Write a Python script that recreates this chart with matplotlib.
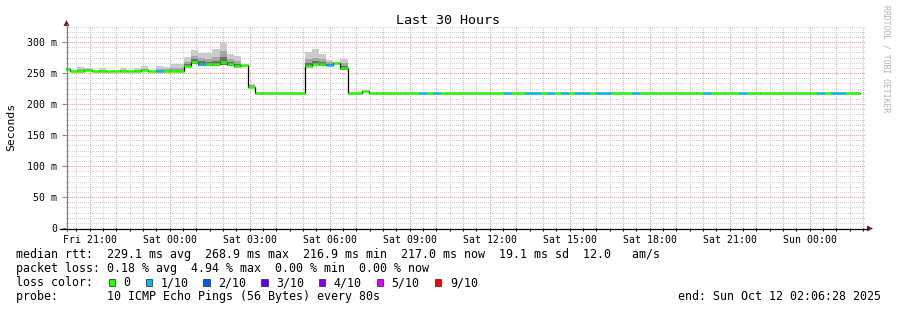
import numpy as np
import matplotlib
matplotlib.use("Agg")
import matplotlib.pyplot as plt
from matplotlib.patches import Rectangle, Polygon
from matplotlib.ticker import MultipleLocator

W, H = 897, 310
MONO = "DejaVu Sans Mono"

# ---------------- data ----------------
# 16-minute consolidated steps, starting Fri 20:00 (hours counted from Fri 00:00)
step_hours = 16 / 60
first_step_hour = 20.0
view_start = 20 + 6 / 60 + 28 / 3600          # Fri 20:06:28
view_end = view_start + 30                      # Sun 02:06:28

flat = [217] * 69
median_ms = [256, 253, 253, 255, 253, 253, 253, 253, 253, 253,
             253, 255, 253, 253, 253, 253, 253, 261, 267, 265,
             264, 264, 268, 264, 262, 263, 228, 217, 217, 217,
             217, 217, 217, 217, 262, 265, 264, 263, 266, 258,
             217, 217, 221] + flat
ping_max_ms = [258, 254, 259, 258, 254, 258, 254, 255, 258, 254,
               258, 261, 254, 261, 260, 264, 264, 276, 287, 283,
               282, 288, 299, 281, 277, 263, 232, 217, 217, 217,
               217, 217, 217, 217, 284, 288, 280, 271, 268, 272,
               217, 217, 221] + [217] * 65 + [219] + [217] * 3
ping_mid_ms = [256, 253, 256, 256, 253, 255, 253, 253, 255, 253,
               255, 257, 253, 256, 256, 258, 258, 268, 278, 274,
               272, 276, 285, 272, 270, 263, 230, 217, 217, 217,
               217, 217, 217, 217, 272, 275, 272, 267, 266, 266,
               217, 217, 221] + flat
ping_dark_ms = [256, 253, 253, 255, 253, 253, 253, 253, 253, 253,
                253, 255, 253, 253, 253, 253, 253, 264, 272, 269,
                267, 269, 276, 267, 265, 263, 228, 217, 217, 217,
                217, 217, 217, 217, 266, 269, 268, 265, 266, 262,
                217, 217, 221] + flat
ping_min_ms = [256, 253, 253, 255, 253, 253, 253, 253, 253, 253,
               253, 255, 253, 253, 253, 253, 253, 259, 265, 262,
               262, 262, 263, 262, 260, 263, 228, 217, 217, 217,
               217, 217, 217, 217, 260, 263, 262, 262, 266, 255,
               217, 217, 221] + flat
lossy_steps = [13, 19, 37, 50, 52, 62, 65, 66, 68, 70, 72, 73, 75, 76,
               80, 90, 95, 106, 108, 109]

y_ticks = [0, 50, 100, 150, 200, 250, 300]
y_ticklabels = ["0", "50 m", "100 m", "150 m", "200 m", "250 m", "300 m"]
x_ticks = [21, 24, 27, 30, 33, 36, 39, 42, 45, 48]
x_ticklabels = ["Fri 21:00", "Sat 00:00", "Sat 03:00", "Sat 06:00", "Sat 09:00",
                "Sat 12:00", "Sat 15:00", "Sat 18:00", "Sat 21:00", "Sun 00:00"]

loss_labels = ["0", "1/10", "2/10", "3/10", "4/10", "5/10", "9/10"]
loss_colors = ["#26ff00", "#00b8ff", "#0059ff", "#5e00ff", "#7e00ff", "#dd00ff", "#ff0000"]

stat_line1 = "median rtt:  229.1 ms avg  268.9 ms max  216.9 ms min  217.0 ms now  19.1 ms sd  12.0   am/s"
stat_line2 = "packet loss: 0.18 % avg  4.94 % max  0.00 % min  0.00 % now"
stat_line3 = "loss color:"
stat_line4 = "probe:       10 ICMP Echo Pings (56 Bytes) every 80s"
end_text = "end: Sun Oct 12 02:06:28 2025"

# ---------------- figure ----------------
fig = plt.figure(figsize=(W / 100, H / 100), dpi=100)
fig.patch.set_facecolor("white")

def fx(px):
    return px / W

def fy(py):
    return 1 - py / H

ax_left, ax_right, ax_top, ax_bottom = 66, 866, 26, 228
ax = fig.add_axes([fx(ax_left), fy(ax_bottom), (ax_right - ax_left) / W, (ax_bottom - ax_top) / H])
ax.set_xlim(view_start, view_end)
y_top = 300 * (ax_bottom - ax_top) / (ax_bottom - 42)
ax.set_ylim(0, y_top)
for s in ax.spines.values():
    s.set_visible(False)

n = len(median_ms)
starts = first_step_hour + step_hours * np.arange(n)
ends = starts + step_hours
med = np.array(median_ms, float)
pmax = np.array(ping_max_ms, float)
pmid = np.array(ping_mid_ms, float)
pdark = np.array(ping_dark_ms, float)
pmin = np.array(ping_min_ms, float)
loss = np.zeros(n, int)
loss[lossy_steps] = 1

# grid (crisp 1px dotted lines)
dot = (0, (1, 1.5))
gkw = dict(lw=0.72, ls=dot, zorder=1, antialiased=False)
h = 20.5
while h < view_end:
    if abs(h - round(h)) < 1e-6:
        ax.axvline(h, color="#f0a6a6", **gkw)
    else:
        ax.axvline(h, color="#d2d2d2", **gkw)
    h += 0.5
k = 1
while k * 50 / 6 < y_top:
    v = k * 50 / 6
    if k % 6 == 0:
        ax.axhline(v, color="#f0a6a6", **gkw)
    else:
        ax.axhline(v, color="#d2d2d2", **gkw)
    k += 1

# smoke
ax.bar(starts, pmax - pmin, bottom=pmin, width=step_hours, align="edge",
       color="#cbcbcb", linewidth=0, zorder=2)
ax.bar(starts, pmid - pmin, bottom=pmin, width=step_hours, align="edge",
       color="#a6a6a6", linewidth=0, zorder=2)
ax.bar(starts, pdark - pmin, bottom=pmin, width=step_hours, align="edge",
       color="#6e6e6e", linewidth=0, zorder=2)

# median line
ax.step(np.append(starts, ends[-1]), np.append(med, med[-1]), where="post",
        color="black", lw=0.9, zorder=3)
for lvl in range(2):
    m = loss == lvl
    ax.hlines(med[m], starts[m], ends[m], colors=loss_colors[lvl], lw=1.8,
              zorder=4)

# ticks
ax.set_yticks(y_ticks)
ax.set_yticklabels(y_ticklabels, family=MONO, fontsize=7.1)
ax.set_xticks(x_ticks)
ax.set_xticklabels(x_ticklabels, family=MONO, fontsize=7.1)
ax.xaxis.set_minor_locator(MultipleLocator(0.5))
ax.tick_params(axis="y", length=3, width=0.8, color="#888888", pad=3.2)
ax.tick_params(axis="x", which="major", length=2, width=0.8, color="black", pad=3)
ax.tick_params(axis="x", which="minor", length=2, width=0.8, color="black")

# overlay in pixel coordinates
ov = fig.add_axes([0, 0, 1, 1])
ov.set_xlim(0, W)
ov.set_ylim(H, 0)
ov.axis("off")
ov.patch.set_visible(False)

ov.plot([66.5, 66.5], [231, 24], color="#808080", lw=0.9)
ov.plot([60, 867], [228.5, 228.5], color="black", lw=0.9)
ov.add_patch(Polygon([[63.5, 26], [66.5, 20], [69.5, 26]], closed=True,
                     color="#7a1515", lw=0))
ov.add_patch(Polygon([[867, 225.5], [873, 228.5], [867, 231.5]], closed=True,
                     color="#7a1515", lw=0))

ov.text(448, 20, "Last 30 Hours", family=MONO, fontsize=9.6, ha="center", va="center")
ov.text(11, 127, "Seconds", family=MONO, fontsize=8.2, rotation=90, ha="center", va="center")
ov.text(886, 59, "RRDTOOL / TOBI OETIKER", family=MONO, fontsize=5.9, rotation=270,
        ha="center", va="center", color="#b4b4b4")

lx = 16
ov.text(lx, 254.5, stat_line1, family=MONO, fontsize=8.4, ha="left", va="center")
ov.text(lx, 268.5, stat_line2, family=MONO, fontsize=8.4, ha="left", va="center")
ov.text(lx, 282.5, stat_line3, family=MONO, fontsize=8.4, ha="left", va="center")
ov.text(lx, 296.5, stat_line4, family=MONO, fontsize=8.4, ha="left", va="center")
ov.text(881, 296.5, end_text, family=MONO, fontsize=8.4, ha="right", va="center")

box_x = [108.7, 145.7, 203.3, 261.0, 318.7, 376.7, 434.7]
lab_x = [123.3, 160.7, 218.3, 276.0, 333.7, 391.7, 450.0]
for bx, tx, lab, col in zip(box_x, lab_x, loss_labels, loss_colors):
    ov.add_patch(Rectangle((bx, 279.3), 6.7, 6.7, facecolor=col, edgecolor="#222222", lw=0.5))
    ov.text(tx, 282.5, lab, family=MONO, fontsize=8.4, ha="left", va="center")

fig.savefig("out.png", dpi=100, facecolor="white")
